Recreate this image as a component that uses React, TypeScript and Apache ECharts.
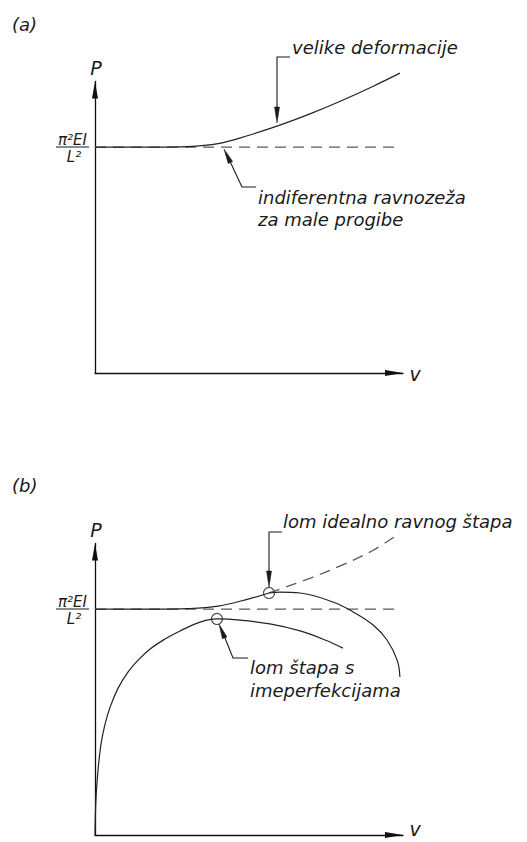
import React, { useEffect, useRef } from "react";
import * as echarts from "echarts";

// Panel (a): large-deflection (elastica) curve, P/Pcr vs v (arbitrary units)
const vA = [0, 1, 2, 3, 4, 5, 6, 7, 8, 9, 9.9];
const pA = [1.0, 1.0, 1.0, 1.002, 1.015, 1.052, 1.097, 1.148, 1.205, 1.267, 1.327];
// critical load (indifferent equilibrium)
const critV = [0, 9.9];
const critP = [1, 1];

// Panel (b)
const idealV = [0, 1, 2, 3, 4, 5, 5.65];
const idealP = [1, 1, 1, 1.002, 1.013, 1.045, 1.071];
const idealDashV = [5.65, 6, 7, 8, 9, 9.9];
const idealDashP = [1.071, 1.088, 1.137, 1.193, 1.258, 1.336];
const postV = [5.65, 6.01, 6.66, 7.73, 8.38, 9.03, 9.48, 9.81, 9.9];
const postP = [1.071, 1.075, 1.071, 1.031, 0.987, 0.929, 0.863, 0.774, 0.699];
const imperfV = [0, 0.03, 0.1, 0.19, 0.32, 0.49, 0.75, 1.07, 1.4, 1.79, 2.27, 2.76, 3.41, 3.96, 4.71, 5.68, 6.66, 7.47, 8.05];
const imperfP = [0, 0.155, 0.288, 0.398, 0.487, 0.566, 0.65, 0.721, 0.774, 0.823, 0.867, 0.903, 0.942, 0.956, 0.951, 0.934, 0.903, 0.863, 0.827];
const failV = [5.65, 3.96];
const failP = [1.071, 0.956];

const zip = (a: number[], b: number[]) => a.map((x, i) => [x, b[i]]);

const FONT = '"DejaVu Sans", "Liberation Sans", sans-serif';
const INK = "#1a1a1a";
const CURVE = "#222";
const DASH = "#5a5a5a";

function txt(text: string, x: number, y: number, size = 18, align = "left") {
  return {
    type: "text",
    x,
    y,
    silent: true,
    style: {
      text,
      fill: INK,
      fontSize: size,
      fontFamily: FONT,
      fontStyle: "italic",
      align,
      textAlign: align,
      verticalAlign: "middle",
      textVerticalAlign: "middle",
    },
  };
}
function pl(points: number[][]) {
  return { type: "polyline", silent: true, shape: { points }, style: { stroke: INK, lineWidth: 1.1, fill: "none" } };
}
function tri(points: number[][]) {
  return { type: "polygon", silent: true, shape: { points }, style: { fill: INK, stroke: INK, lineWidth: 0.5 } };
}
function hline(x1: number, x2: number, y: number) {
  return { type: "line", silent: true, shape: { x1, y1: y, x2, y2: y }, style: { stroke: INK, lineWidth: 1.1 } };
}

function axisX(gridIndex: number) {
  return {
    type: "value",
    gridIndex,
    min: 0,
    max: 10,
    axisLine: {
      show: true,
      onZero: false,
      symbol: ["none", "triangle"],
      symbolSize: [6, 18],
      symbolOffset: [0, -9],
      lineStyle: { color: "#111", width: 1.3 },
    },
    axisTick: { show: false },
    axisLabel: { show: false },
    splitLine: { show: false },
  };
}
function axisY(gridIndex: number) {
  return {
    type: "value",
    gridIndex,
    min: 0,
    max: 1.29,
    axisLine: {
      show: true,
      onZero: false,
      symbol: ["none", "triangle"],
      symbolSize: [6, 17],
      symbolOffset: [0, -8.5],
      lineStyle: { color: "#111", width: 1.3 },
    },
    axisTick: { show: false },
    axisLabel: { show: false },
    splitLine: { show: false },
  };
}

function lineSeries(idx: number, data: number[][], dashed = false, smooth: number | boolean = 0.4) {
  return {
    type: "line",
    xAxisIndex: idx,
    yAxisIndex: idx,
    data,
    smooth,
    showSymbol: false,
    symbol: "none",
    clip: false,
    silent: true,
    lineStyle: dashed
      ? { color: DASH, width: 1.3, type: [11, 7] }
      : { color: CURVE, width: 1.2 },
  };
}

export default function App() {
  const ref = useRef<HTMLDivElement>(null);
  useEffect(() => {
    if (!ref.current) return;
    const chart = echarts.init(ref.current, null, { renderer: "svg" });
    chart.setOption({
      animation: false,
      backgroundColor: "#fff",
      grid: [
        { left: 95, top: 81.5, width: 308, height: 291.5 },
        { left: 95, top: 543.5, width: 308, height: 291.5 },
      ],
      xAxis: [axisX(0), axisX(1)],
      yAxis: [axisY(0), axisY(1)],
      series: [
        lineSeries(0, zip(critV, critP), true, false),
        lineSeries(0, zip(vA, pA)),
        lineSeries(1, zip(critV, critP), true, false),
        lineSeries(1, zip(idealV, idealP)),
        lineSeries(1, zip(idealDashV, idealDashP), true),
        lineSeries(1, zip(postV, postP)),
        lineSeries(1, zip(imperfV, imperfP)),
        {
          type: "scatter",
          xAxisIndex: 1,
          yAxisIndex: 1,
          data: zip(failV, failP),
          symbol: "circle",
          symbolSize: 11,
          silent: true,
          itemStyle: { color: "transparent", borderColor: CURVE, borderWidth: 1.1 },
        },
      ],
      graphic: [
        // panel labels
        txt("(a)", 12, 24),
        txt("(b)", 12, 485),
        // axis names
        txt("P", 96, 68, 19, "center"),
        txt("v", 415, 374, 19, "center"),
        txt("P", 96, 530, 19, "center"),
        txt("v", 415, 829, 19, "center"),
        // Pcr fractions
        txt("\u03c0\u00b2EI", 72.5, 139.5, 15, "center"),
        hline(56, 89, 147),
        txt("L\u00b2", 74, 157, 15, "center"),
        txt("\u03c0\u00b2EI", 72.5, 601.5, 15, "center"),
        hline(56, 89, 609),
        txt("L\u00b2", 74, 619, 15, "center"),
        // (a) annotations
        txt("velike deformacije", 292, 47),
        pl([[290, 57], [277, 57], [277, 110]]),
        tri([[277, 123], [274.5, 107], [279.5, 107]]),
        txt("indiferentna ravnozeža", 258, 197),
        txt("za male progibe", 258, 219),
        pl([[256, 187], [242, 187], [227, 155]]),
        tri([[224, 149], [228.2, 163.6], [232.7, 161.5]]),
        // (b) annotations
        txt("lom idealno ravnog štapa", 283, 521),
        pl([[282, 532], [269, 532], [269, 574]]),
        tri([[269, 587], [266.5, 571], [271.5, 571]]),
        txt("lom štapa s", 250, 667),
        txt("imeperfekcijama", 250, 690),
        pl([[248, 658], [233, 658], [223, 633]]),
        tri([[219, 624], [222.4, 638.8], [227, 636.9]]),
      ],
    });
    return () => chart.dispose();
  }, []);
  return (
    <div
      ref={ref}
      style={{ position: "fixed", left: 0, top: 0, width: 527, height: 842, background: "#fff" }}
    />
  );
}
